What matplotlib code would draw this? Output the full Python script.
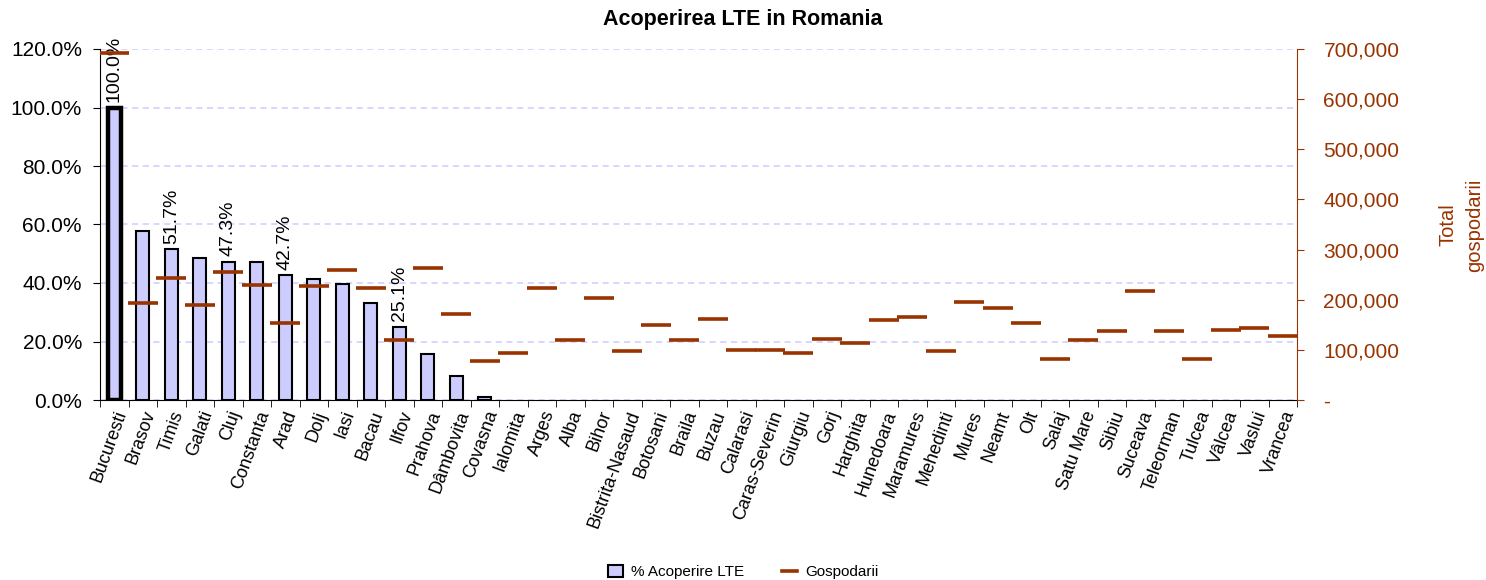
import numpy as np
import matplotlib
matplotlib.use("Agg")
import matplotlib.pyplot as plt
from matplotlib.patches import Patch
from matplotlib.lines import Line2D
from matplotlib.ticker import FuncFormatter, PercentFormatter
from matplotlib.transforms import Bbox, TransformedBbox

plt.rcParams['font.family'] = ['Liberation Sans', 'DejaVu Sans']

counties = ["Bucuresti", "Brasov", "Timis", "Galati", "Cluj", "Constanta", "Arad", "Dolj",
            "Iasi", "Bacau", "Ilfov", "Prahova", "Dâmbovita", "Covasna", "Ialomita", "Arges",
            "Alba", "Bihor", "Bistrita-Nasaud", "Botosani", "Braila", "Buzau", "Calarasi",
            "Caras-Severin", "Giurgiu", "Gorj", "Harghita", "Hunedoara", "Maramures",
            "Mehedinti", "Mures", "Neamt", "Olt", "Salaj", "Satu Mare", "Sibiu", "Suceava",
            "Teleorman", "Tulcea", "Vâlcea", "Vaslui", "Vrancea"]

coverage = [1.000, 0.577, 0.517, 0.486, 0.473, 0.472, 0.427, 0.414, 0.397, 0.333, 0.251,
            0.158, 0.083, 0.010, 0, 0, 0, 0, 0, 0, 0, 0, 0, 0, 0, 0, 0, 0, 0, 0, 0, 0, 0,
            0, 0, 0, 0, 0, 0, 0, 0, 0]

households = [692000, 193000, 243000, 190000, 255000, 230000, 153000, 227000, 259000,
              224000, 119000, 264000, 171000, 78000, 94000, 224000, 119000, 203000, 97000,
              149000, 119000, 162000, 100000, 100000, 94000, 122000, 113000, 159000, 165000,
              97000, 196000, 184000, 153000, 81000, 119000, 137000, 218000, 137000, 81000,
              140000, 143000, 128000]

labelled = ["Bucuresti", "Timis", "Cluj", "Arad", "Ilfov"]

title = "Acoperirea LTE in Romania"
bar_label = "% Acoperire LTE"
line_label = "Gospodarii"
right_label = "Total\ngospodarii"

BAR_FACE = "#CCCCFF"
BROWN = "#993300"

fig = plt.figure(figsize=(14.86, 5.8), dpi=100)
ax = fig.add_axes([100/1486, 1-400/580, (1297-100)/1486, (400-49)/580])

x = np.arange(len(counties))
bars = ax.bar(x, coverage, width=0.46, color=BAR_FACE, edgecolor="black", linewidth=1.5, zorder=2)
bars[0].set_linewidth(3.2)
for b, v in zip(bars, coverage):
    if v == 0:
        b.set_visible(False)

ax.set_xlim(-0.5, len(counties) - 0.5)
ax.set_ylim(0, 1.2)
ax.set_yticks(np.arange(0, 1.21, 0.2))
ax.yaxis.set_major_formatter(PercentFormatter(1.0, decimals=1))
ax.yaxis.grid(True, color=BAR_FACE, linestyle=(0, (4, 3)), linewidth=1.1)
ax.set_axisbelow(True)
ax.tick_params(axis="y", labelsize=15, length=5, pad=8, colors="black")

ax.set_xticks(x)
ax.set_xticklabels(counties, rotation=70, ha="right", rotation_mode="anchor", fontsize=13)
ax.set_xticks(np.arange(-0.5, len(counties), 1), minor=True)
ax.tick_params(axis="x", which="major", length=0, pad=6)
ax.tick_params(axis="x", which="minor", length=5, direction="out")
ax.spines["top"].set_visible(False)
ax.spines["right"].set_visible(False)

clip = TransformedBbox(Bbox([[0, 0], [1, 1 - 38/580]]), fig.transFigure)
for name in labelled:
    i = counties.index(name)
    v = coverage[i]
    t = ax.text(i, v + 0.018, f"{v*100:.1f}%", rotation=90, ha="center", va="bottom",
                fontsize=14, zorder=5)
    t.set_clip_on(True)
    t.set_clip_box(clip)

ax2 = ax.twinx()
ax2.plot(x, households, linestyle="none", marker="_", markersize=21, markeredgewidth=2.6,
         color=BROWN, zorder=4)
ax2.set_ylim(0, 700000)
ax2.set_yticks(np.arange(0, 700001, 100000))
ax2.yaxis.set_major_formatter(FuncFormatter(lambda v, p: "-" if v == 0 else f"{int(v):,}"))
ax2.tick_params(axis="y", labelsize=15, length=5, pad=14, colors=BROWN)
ax2.spines["right"].set_color(BROWN)
ax2.spines["top"].set_visible(False)
ax2.spines["left"].set_visible(False)
ax2.spines["bottom"].set_visible(False)

fig.text(1461/1486, 1-225/580, right_label, rotation=90, ha="center", va="center",
         fontsize=14.5, color=BROWN, linespacing=1.5)

fig.text(0.5, 1-19/580, title, ha="center", va="center", fontsize=15.5, fontweight="bold")

handles = [Patch(facecolor=BAR_FACE, edgecolor="black", linewidth=1.5),
           Line2D([0], [0], color=BROWN, linewidth=2.6)]
fig.legend(handles, [bar_label, line_label], loc="center", bbox_to_anchor=(0.5, 1-572/580),
           ncol=2, frameon=False, fontsize=11, handlelength=1.0, handleheight=0.8,
           columnspacing=2.5, handletextpad=0.5)

fig.savefig("out.png", dpi=100)
